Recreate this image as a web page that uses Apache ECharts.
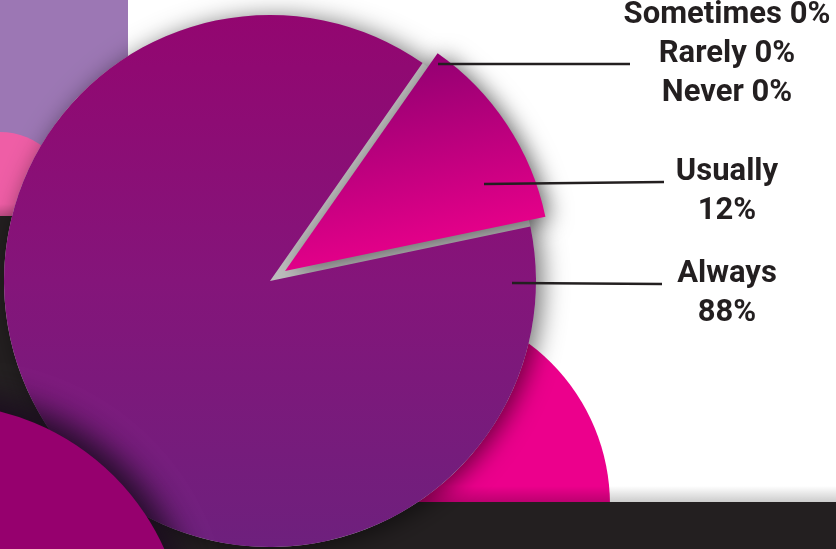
<!DOCTYPE html>
<html>
<head>
<meta charset="utf-8">
<script src="https://cdn.jsdelivr.net/npm/echarts@6/dist/echarts.min.js"></script>
<style>
  html, body { margin: 0; padding: 0; background: #ffffff; }
  #chart { width: 836px; height: 549px; }
</style>
</head>
<body>
<div id="chart"></div>
<script>
// Survey answers and their shares (percent)
const categories = ['Sometimes', 'Rarely', 'Never', 'Usually', 'Always'];
const values = [0, 0, 0, 12, 88];

// Answer pulled out of the pie
const pulledOut = 'Usually';

// Where each answer's caption sits (text centre) and where its leader line runs
const labelSpots = [
  { x: 727, y: 15,  line: null },
  { x: 727, y: 54,  line: [438, 64, 630, 64] },
  { x: 727, y: 93,  line: null },
  { x: 727, y: 192, line: [484, 184, 664, 182] },
  { x: 727, y: 294, line: [512, 283, 662, 284] }
];

const TEXT = '#231f20';
const PIE_CENTER = [270, 281];
const PIE_RADIUS = 266;
const START_ANGLE = 55;
const PULL_DISTANCE = 18;
const CLEAR = 'rgba(0,0,0,0)';

const sliceFills = {
  Usually: {
    type: 'linear', x: 0.3, y: 0, x2: 0.5, y2: 1,
    colorStops: [{ offset: 0, color: '#8c0070' }, { offset: 1, color: '#ee008c' }]
  },
  Always: {
    type: 'linear', x: 0, y: 0, x2: 0, y2: 1,
    colorStops: [{ offset: 0, color: '#930670' }, { offset: 0.5, color: '#84157a' }, { offset: 1, color: '#6e207d' }]
  }
};

// Direction of the pulled-out slice: middle of its angular span (clockwise from START_ANGLE)
const total = values.reduce((a, b) => a + b, 0);
const pullIndex = categories.indexOf(pulledOut);
const before = values.slice(0, pullIndex).reduce((a, b) => a + b, 0);
const midAngle = (START_ANGLE - (before + values[pullIndex] / 2) / total * 360) * Math.PI / 180;
const pulledCenter = [
  PIE_CENTER[0] + PULL_DISTANCE * Math.cos(midAngle),
  PIE_CENTER[1] - PULL_DISTANCE * Math.sin(midAngle)
];

// Slices that stay in place
const restingData = categories.map((name, i) => ({
  name: name,
  value: values[i],
  itemStyle: { color: name === pulledOut ? CLEAR : (sliceFills[name] || '#b0b0b0') }
}));

// Shifted pie: only the pulled slice is painted
const pulledData = categories.map((name, i) => ({
  name: name,
  value: values[i],
  itemStyle: name === pulledOut
    ? { color: sliceFills[name], shadowBlur: 22, shadowColor: 'rgba(0,0,0,0.5)', shadowOffsetX: 6, shadowOffsetY: 2 }
    : { color: CLEAR }
}));

// Captions and leader lines, drawn above every slice
const captionData = categories.map((name, i) => {
  const item = {
    name: name,
    value: values[i],
    itemStyle: { color: CLEAR },
    label: { formatter: values[i] === 0 ? '{b} {c}%' : '{b}\n{c}%' }
  };
  if (!labelSpots[i].line) item.labelLine = { show: false };
  return item;
});

const chart = echarts.init(document.getElementById('chart'), null, { renderer: 'canvas' });

const bandShade = {
  type: 'linear', x: 0, y: 0, x2: 0, y2: 1,
  colorStops: [{ offset: 0, color: 'rgba(0,0,0,0)' }, { offset: 1, color: 'rgba(0,0,0,0.2)' }]
};

const quietPie = {
  type: 'pie',
  silent: true,
  radius: PIE_RADIUS,
  startAngle: START_ANGLE,
  clockwise: true,
  label: { show: false },
  labelLine: { show: false },
  emphasis: { disabled: true }
};

chart.setOption({
  backgroundColor: '#ffffff',
  animation: false,
  graphic: [
    { type: 'rect', z: 0, shape: { x: 0, y: 0, width: 128, height: 216 }, style: { fill: '#9c77b4' } },
    { type: 'circle', z: 0, shape: { cx: 0, cy: 202, r: 70 }, style: { fill: '#ef5ea6' } },
    { type: 'rect', z: 0, shape: { x: 0, y: 204, width: 128, height: 12 }, style: { fill: bandShade } },
    { type: 'rect', z: 0, shape: { x: 0, y: 216, width: 320, height: 333 }, style: { fill: '#231f20' } },
    { type: 'circle', z: 0, shape: { cx: 409, cy: 505, r: 201 }, style: { fill: '#ec008c' } },
    { type: 'rect', z: 0, shape: { x: 0, y: 486, width: 836, height: 16 }, style: { fill: bandShade } },
    { type: 'rect', z: 0, shape: { x: 0, y: 502, width: 836, height: 47 }, style: { fill: '#231f20' } },
    {
      type: 'circle', z: 100, shape: { cx: -60, cy: 650, r: 246 },
      style: {
        fill: '#96006e', shadowBlur: 30, shadowColor: 'rgba(25,10,30,0.9)',
        shadowOffsetX: 10, shadowOffsetY: -10
      }
    }
  ],
  series: [
    Object.assign({}, quietPie, {
      // grey base showing through the gaps around the pulled-out slice
      z: 3,
      center: PIE_CENTER,
      itemStyle: {
        color: '#bdbdbd',
        shadowBlur: 24, shadowColor: 'rgba(0,0,0,0.55)',
        shadowOffsetX: 6, shadowOffsetY: 2
      },
      data: [{ value: 1, name: 'base' }]
    }),
    Object.assign({}, quietPie, { z: 4, center: pulledCenter, data: pulledData }),
    Object.assign({}, quietPie, { z: 5, center: PIE_CENTER, data: restingData }),
    {
      type: 'pie',
      z: 6,
      silent: true,
      center: PIE_CENTER,
      radius: PIE_RADIUS,
      startAngle: START_ANGLE,
      clockwise: true,
      avoidLabelOverlap: false,
      emphasis: { disabled: true },
      label: {
        show: true,
        color: TEXT,
        fontFamily: 'Roboto',
        fontWeight: 'bold',
        fontSize: 31,
        lineHeight: 39,
        align: 'center'
      },
      labelLine: { show: true, lineStyle: { color: TEXT, width: 2.5 } },
      labelLayout: function (params) {
        const spot = labelSpots[params.dataIndex];
        const out = { x: spot.x, y: spot.y, align: 'center', verticalAlign: 'middle' };
        if (spot.line) {
          out.labelLinePoints = [
            [spot.line[0], spot.line[1]],
            [spot.line[2], spot.line[3]],
            [spot.line[2], spot.line[3]]
          ];
        }
        return out;
      },
      data: captionData
    }
  ]
});
</script>
</body>
</html>
